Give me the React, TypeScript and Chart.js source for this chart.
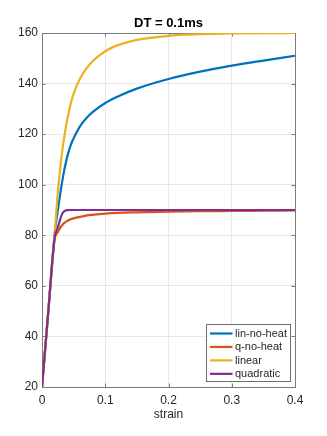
import React, { useEffect, useRef } from "react";
import { Chart, registerables } from "chart.js";

Chart.register(...registerables);

const strain = [0, 0.01, 0.02, 0.025, 0.0275, 0.03, 0.0325, 0.035, 0.04, 0.045, 0.05, 0.06, 0.07, 0.08, 0.1, 0.12, 0.15, 0.2, 0.25, 0.3, 0.35, 0.4];
const linNoHeat = [20, 50, 80.5, 89.8, 94.2, 98.3, 102.1, 105.5, 111.2, 115.4, 118.4, 123.1, 126.3, 128.7, 132.3, 134.9, 138, 141.8, 144.7, 147.1, 149.1, 151];
const qNoHeat = [20, 50, 78.5, 81.2, 82.4, 83.4, 84.2, 84.8, 85.7, 86.3, 86.7, 87.3, 87.8, 88.1, 88.6, 88.9, 89.1, 89.35, 89.5, 89.6, 89.7, 89.8];
const linear = [20, 50, 80.5, 97, 103.5, 109.3, 114.3, 118.6, 125.9, 131.6, 136, 141.9, 145.9, 148.8, 152.8, 155.2, 157.3, 158.9, 159.5, 159.8, 159.95, 160];
const quadratic = [20, 50, 79, 83, 85.2, 87.3, 88.8, 89.5, 89.95, 90, 90, 90, 90, 90, 90, 90, 90, 90, 90, 90, 90, 90];

const seriesNames = ["lin-no-heat", "q-no-heat", "linear", "quadratic"];
const seriesColors = ["#0072BD", "#D95319", "#EDB120", "#7E2F8E"];
const seriesValues = [linNoHeat, qNoHeat, linear, quadratic];

const titleText = "DT = 0.1ms";
const xLabel = "strain";
const FONT = "'Liberation Sans', Arial, Helvetica, sans-serif";
const AXIS_COLOR = "#7a7a7a";
const TEXT_COLOR = "#262626";

const boxPlugin = {
  id: "matlabBox",
  beforeDatasetsDraw(chart: any) {
    const { ctx, chartArea } = chart;
    const { left, right, top, bottom } = chartArea;
    const xs = chart.scales.x;
    const ys = chart.scales.y;
    const tl = 3.5;
    ctx.save();
    ctx.strokeStyle = AXIS_COLOR;
    ctx.lineWidth = 1;
    ctx.beginPath();
    ctx.rect(Math.round(left) + 0.5, Math.round(top) + 0.5, Math.round(right - left), Math.round(bottom - top));
    xs.ticks.forEach((t: any) => {
      const px = Math.round(xs.getPixelForValue(t.value)) + 0.5;
      ctx.moveTo(px, bottom);
      ctx.lineTo(px, bottom - tl);
      ctx.moveTo(px, top);
      ctx.lineTo(px, top + tl);
    });
    ys.ticks.forEach((t: any) => {
      const py = Math.round(ys.getPixelForValue(t.value)) + 0.5;
      ctx.moveTo(left, py);
      ctx.lineTo(left + tl, py);
      ctx.moveTo(right, py);
      ctx.lineTo(right - tl, py);
    });
    ctx.stroke();
    ctx.restore();
  },
};

const legendPlugin = {
  id: "matlabLegend",
  afterDraw(chart: any) {
    const { ctx, chartArea } = chart;
    const w = 84;
    const h = 57;
    const x0 = Math.round(chartArea.right - 5.5 - w) + 0.5;
    const y0 = Math.round(chartArea.bottom - 6 - h) + 0.5;
    ctx.save();
    ctx.fillStyle = "#ffffff";
    ctx.fillRect(x0, y0, w, h);
    ctx.strokeStyle = "#6e6e6e";
    ctx.lineWidth = 1;
    ctx.strokeRect(x0, y0, w, h);
    ctx.font = "11px " + FONT;
    ctx.textBaseline = "middle";
    ctx.textAlign = "left";
    chart.data.datasets.forEach((ds: any, i: number) => {
      const cy = y0 + 9 + i * 13.45;
      ctx.strokeStyle = ds.borderColor;
      ctx.lineWidth = 2.2;
      ctx.beginPath();
      ctx.moveTo(x0 + 3.5, cy);
      ctx.lineTo(x0 + 26, cy);
      ctx.stroke();
      ctx.fillStyle = TEXT_COLOR;
      ctx.fillText(ds.label, x0 + 28.5, cy + 0.5);
    });
    ctx.restore();
  },
};

export default function App() {
  const ref = useRef<HTMLCanvasElement | null>(null);
  useEffect(() => {
    if (!ref.current) return;
    const datasets = seriesNames.map((name, i) => ({
      label: name,
      data: strain.map((s, j) => ({ x: s, y: seriesValues[i][j] })),
      borderColor: seriesColors[i],
      backgroundColor: seriesColors[i],
      borderWidth: 2.2,
      pointRadius: 0,
      fill: false,
      cubicInterpolationMode: "monotone" as const,
      order: seriesNames.length - 1 - i,
    }));
    const chart = new Chart(ref.current, {
      type: "line",
      data: { datasets },
      plugins: [boxPlugin, legendPlugin],
      options: {
        responsive: false,
        animation: false,
        devicePixelRatio: 1,
        layout: { padding: { left: 0, right: 32, top: 0, bottom: 0 } },
        plugins: {
          legend: { display: false },
          tooltip: { enabled: false },
          title: {
            display: true,
            text: titleText,
            fullSize: false,
            color: "#000000",
            font: { family: FONT, size: 13, weight: "bold", lineHeight: 1.2 },
            padding: { top: 16, bottom: 1.4 },
          },
        },
        scales: {
          x: {
            type: "linear",
            min: 0,
            max: 0.4,
            afterFit: (s: any) => {
              s.height = 49;
            },
            ticks: {
              stepSize: 0.1,
              padding: 6,
              maxRotation: 0,
              color: TEXT_COLOR,
              font: { family: FONT, size: 12 },
              callback: (v: any) => String(+Number(v).toFixed(2)),
            },
            grid: { color: "rgba(0,0,0,0.09)", lineWidth: 1, drawTicks: false },
            border: { display: true, color: AXIS_COLOR, width: 1 },
            title: {
              display: true,
              text: xLabel,
              color: TEXT_COLOR,
              font: { family: FONT, size: 12, lineHeight: 1.2 },
              padding: { top: 0, bottom: 13.8 },
            },
          },
          y: {
            type: "linear",
            min: 20,
            max: 160,
            afterFit: (s: any) => {
              s.width = 42;
            },
            ticks: {
              stepSize: 20,
              padding: 4,
              color: TEXT_COLOR,
              font: { family: FONT, size: 12 },
            },
            grid: { color: "rgba(0,0,0,0.09)", lineWidth: 1, drawTicks: false },
            border: { display: true, color: AXIS_COLOR, width: 1 },
          },
        },
      },
    });
    return () => chart.destroy();
  }, []);
  return (
    <div style={{ position: "fixed", left: 0, top: 0, width: 327, height: 436, background: "#ffffff" }}>
      <canvas ref={ref} width={327} height={436} style={{ display: "block", width: 327, height: 436 }} />
    </div>
  );
}
